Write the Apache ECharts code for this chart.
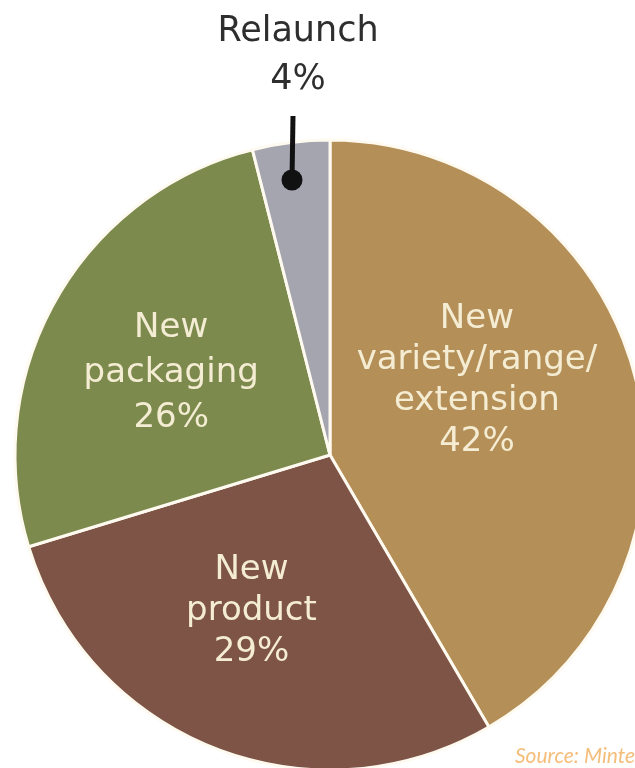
<!DOCTYPE html>
<html>
<head>
<meta charset="utf-8">
<script src="https://cdn.jsdelivr.net/npm/echarts@6/dist/echarts.min.js"></script>
<style>html,body{margin:0;padding:0;background:#fff;}#c{width:635px;height:768px;}</style>
</head>
<body>
<div id="c"></div>
<script>
const categories = ['New\nvariety/range/\nextension', 'New\nproduct', 'New\npackaging', 'Relaunch'];
const values = [42, 29, 26, 4];
const colors = ['#b48f58', '#7d5445', '#7c8a4e', '#a4a5af'];
const labelOffsets = [[-8, -32], [-20, 7], [-19, -3], [0, 0]];
const labelLineHeights = [41, 41, 45, 48];

const chart = echarts.init(document.getElementById('c'));
const data = categories.map((c, i) => {
  const d = { name: c, value: values[i], itemStyle: { color: colors[i] } };
  if (i < 3) {
    d.label = { position: 'inside', offset: labelOffsets[i], lineHeight: labelLineHeights[i] };
  } else {
    d.label = {
      position: 'outside', color: '#2e2e2e', fontSize: 35, lineHeight: labelLineHeights[i]
    };
    d.labelLine = { show: false };
  }
  return d;
});
chart.setOption({
  animation: false,
  series: [{
    type: 'pie',
    center: [330, 455],
    radius: 315,
    startAngle: 90,
    clockwise: true,
    data: data,
    itemStyle: { borderColor: '#fffaf0', borderWidth: 3 },
    label: {
      show: true,
      formatter: p => p.name + '\n' + p.value + '%',
      color: '#f5edd3',
      fontFamily: 'DejaVu Sans',
      fontSize: 34,
      align: 'center'
    },
    labelLayout: function (params) {
      if (params.dataIndex === 3) {
        return { x: 298, y: 56, align: 'center', verticalAlign: 'middle' };
      }
      return {};
    }
  }],
  graphic: [
    { type: 'line', z: 100, shape: { x1: 293, y1: 116, x2: 292, y2: 180 }, style: { stroke: '#111', lineWidth: 5 } },
    { type: 'circle', z: 100, shape: { cx: 292, cy: 180, r: 10.5 }, style: { fill: '#111' } },
    { type: 'text', z: 100, left: 515, top: 746, style: { text: 'Source: Mintel', fill: '#f5bd7a', font: 'italic 21px Lato' } }
  ]
});
</script>
</body>
</html>
